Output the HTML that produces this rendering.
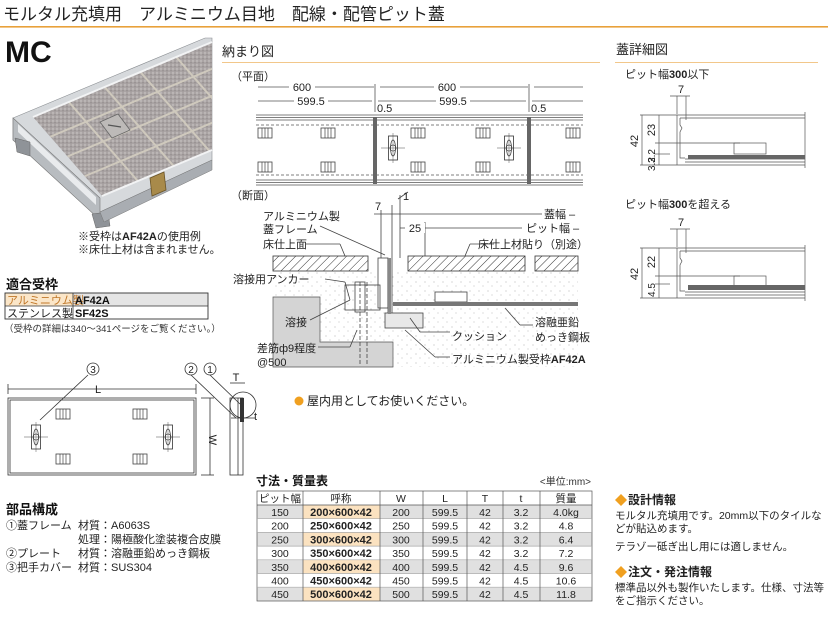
<!DOCTYPE html>
<html><head><meta charset="utf-8">
<style>
html,body{margin:0;padding:0;background:#fff;}
svg{display:block;font-family:"Liberation Sans","Noto Sans CJK JP",sans-serif;}
</style></head>
<body>
<svg width="828" height="617" viewBox="0 0 828 617" xmlns="http://www.w3.org/2000/svg">
<defs>
<pattern id="hatch" width="6" height="6" patternUnits="userSpaceOnUse" patternTransform="rotate(45)">
<rect width="6" height="6" fill="#fff"/><line x1="0" y1="0" x2="0" y2="6" stroke="#333" stroke-width="1"/></pattern>
<pattern id="dots" width="9" height="9" patternUnits="userSpaceOnUse">
<rect width="9" height="9" fill="#fff"/><circle cx="2" cy="3" r="0.5" fill="#999"/><circle cx="6" cy="7" r="0.5" fill="#aaa"/></pattern>
<pattern id="tile" width="4" height="4" patternUnits="userSpaceOnUse">
<rect width="4" height="4" fill="#aaa4a4"/><circle cx="1" cy="1" r="0.7" fill="#d2cecd"/><circle cx="3" cy="2.8" r="0.6" fill="#807a7a"/></pattern>
<clipPath id="tclip"><polygon points="33,117 212,42 212,150 102,196"/></clipPath>
<g id="hnd"><rect x="-7" y="-5" width="14" height="10" fill="#fff" stroke="#444" stroke-width="0.8"/><line x1="-3" y1="-5" x2="-3" y2="5" stroke="#444" stroke-width="0.7"/><line x1="0" y1="-5" x2="0" y2="5" stroke="#444" stroke-width="0.7"/><line x1="3" y1="-5" x2="3" y2="5" stroke="#444" stroke-width="0.7"/></g>
<g id="hole"><line x1="-12" y1="0" x2="12" y2="0" stroke="#888" stroke-width="0.7"/><line x1="0" y1="-15" x2="0" y2="15" stroke="#888" stroke-width="0.7"/><rect x="-4.5" y="-12" width="9" height="24" fill="none" stroke="#333" stroke-width="0.8"/><ellipse cx="0" cy="0" rx="2.5" ry="8" fill="none" stroke="#444" stroke-width="0.8"/><circle r="3" fill="none" stroke="#444" stroke-width="0.8"/></g>
</defs>

<!-- Title -->
<text x="3" y="20" font-size="17" fill="#222">モルタル充填用　アルミニウム目地　配線・配管ピット蓋</text>
<rect x="0" y="26" width="828" height="1.6" fill="#e8a13a"/>
<text x="5" y="62" font-size="30" font-weight="bold" fill="#111">MC</text>

<!-- Photo -->
<g>
<polygon points="13,118 205,38 212,38 212,160 100,212 100,218 13,140" fill="#d6d9dc" stroke="#8a8e92" stroke-width="0.6"/>
<polygon points="13,118 100,198 100,220 13,140" fill="#b8bcc0" stroke="#777" stroke-width="0.6"/>
<polygon points="18,124 96,197 96,205 18,132" fill="#e9ebed"/>
<polygon points="15,138 30,142 30,156 17,152" fill="#8f9398" stroke="#666" stroke-width="0.5"/>
<polygon points="92,214 108,212 110,226 96,228" fill="#8f9398" stroke="#666" stroke-width="0.5"/>
<polygon points="100,212 212,160 212,170 104,222" fill="#a9adb2" stroke="#777" stroke-width="0.5"/>
<polygon points="33,117 212,42 212,150 102,196" fill="url(#tile)"/>
<g clip-path="url(#tclip)" stroke="#cfc9bd" stroke-width="2">
<line x1="68.8" y1="102" x2="137.8" y2="181"/><line x1="104.6" y1="87" x2="173.6" y2="166"/>
<line x1="140.4" y1="72" x2="209.4" y2="151"/><line x1="176.2" y1="57" x2="245" y2="136"/>
<line x1="50.25" y1="136.75" x2="250" y2="53"/><line x1="67.5" y1="156.5" x2="267.5" y2="72.5"/><line x1="84.75" y1="176.25" x2="284.75" y2="92.25"/>
</g>
<polygon points="33,117 212,42" fill="none"/>
<line x1="33" y1="117" x2="212" y2="42" stroke="#f2f3f4" stroke-width="2"/>
<line x1="102" y1="196" x2="212" y2="150" stroke="#f2f3f4" stroke-width="2"/>
<polygon points="100,122 118,114 130,130 112,138" fill="#bdbab8" stroke="#666" stroke-width="0.8"/>
<line x1="108" y1="125" x2="121" y2="127" stroke="#555" stroke-width="1.2"/>
<polygon points="150,178 164,172 166,190 152,196" fill="#a88a4a" stroke="#6b5426" stroke-width="0.8"/>
</g>
<text x="78" y="240" font-size="11" fill="#222">※受枠は<tspan font-weight="bold">AF42A</tspan>の使用例</text>
<text x="78" y="253" font-size="11" fill="#222">※床仕上材は含まれません。</text>

<!-- 適合受枠 -->
<text x="6" y="289" font-size="13" font-weight="bold" fill="#111">適合受枠</text>
<rect x="5" y="293" width="203" height="13" fill="#e5e5e5"/>
<rect x="5" y="293" width="68" height="13" fill="#fbe6c8"/>
<rect x="5" y="293" width="203" height="26" fill="none" stroke="#333" stroke-width="0.9"/>
<line x1="5" y1="306" x2="208" y2="306" stroke="#333" stroke-width="0.8"/>
<line x1="73" y1="293" x2="73" y2="319" stroke="#333" stroke-width="0.8"/>
<text x="7" y="304" font-size="11" fill="#c0782a">アルミニウム製</text>
<text x="75" y="304" font-size="11" font-weight="bold" fill="#111">AF42A</text>
<text x="7" y="317" font-size="11" fill="#222">ステンレス製</text>
<text x="75" y="317" font-size="11" font-weight="bold" fill="#111">SF42S</text>
<text x="4" y="332" font-size="9.5" fill="#333">（受枠の詳細は340～341ページをご覧ください。）</text>

<!-- Parts drawing -->
<g stroke="#333" fill="none" stroke-width="0.8">
<line x1="8" y1="389" x2="196" y2="389"/><line x1="8" y1="384" x2="8" y2="394"/><line x1="196" y1="384" x2="196" y2="394"/>
<rect x="8" y="398" width="188" height="77" fill="#fff"/>
<rect x="10" y="400" width="184" height="73"/>
<line x1="210" y1="398" x2="210" y2="475"/><line x1="201" y1="398" x2="214" y2="398"/><line x1="201" y1="475" x2="214" y2="475"/>
<rect x="230" y="398" width="13" height="77" fill="#fff"/>
<line x1="238" y1="398" x2="238" y2="475"/>
<circle cx="243" cy="405" r="13"/>
<line x1="230" y1="383" x2="245" y2="383"/>
<line x1="88" y1="375" x2="40" y2="420"/><line x1="191" y1="375" x2="236" y2="418"/><line x1="210" y1="375" x2="240" y2="404"/>
</g>
<rect x="240" y="398" width="4" height="24" fill="#333"/>
<line x1="231" y1="418" x2="255" y2="418" stroke="#333" stroke-width="0.8"/>
<use href="#hnd" x="63" y="414"/><use href="#hnd" x="140" y="414"/><use href="#hnd" x="63" y="459"/><use href="#hnd" x="140" y="459"/>
<use href="#hole" x="36" y="437"/><use href="#hole" x="168" y="437"/>
<g font-size="11" fill="#222">
<text x="98" y="393" text-anchor="middle">L</text>
<text x="209" y="440" transform="rotate(90 209 440)" text-anchor="middle">W</text>
<text x="236" y="381" text-anchor="middle">T</text>
<text x="254" y="420">t</text>
<circle cx="93" cy="369" r="6" fill="none" stroke="#333" stroke-width="0.8"/><text x="93" y="373" text-anchor="middle" font-size="10">3</text>
<circle cx="191" cy="369" r="6" fill="none" stroke="#333" stroke-width="0.8"/><text x="191" y="373" text-anchor="middle" font-size="10">2</text>
<circle cx="210" cy="369" r="6" fill="none" stroke="#333" stroke-width="0.8"/><text x="210" y="373" text-anchor="middle" font-size="10">1</text>
</g>

<!-- 部品構成 -->
<text x="6" y="514" font-size="13" font-weight="bold" fill="#111">部品構成</text>
<g font-size="11" fill="#222">
<text x="6" y="529">①蓋フレーム</text><text x="78" y="529">材質：A6063S</text>
<text x="78" y="543">処理：陽極酸化塗装複合皮膜</text>
<text x="6" y="557">②プレート</text><text x="78" y="557">材質：溶融亜鉛めっき鋼板</text>
<text x="6" y="571">③把手カバー</text><text x="78" y="571">材質：SUS304</text>
</g>

<!-- 納まり図 -->
<text x="222" y="56" font-size="13" fill="#222">納まり図</text>
<rect x="222" y="62" width="378" height="1" fill="#f2c78a"/>
<text x="231" y="80" font-size="11" fill="#222">（平面）</text>
<g stroke="#555" stroke-width="0.8" fill="none">
<line x1="258" y1="87" x2="374" y2="87"/><line x1="380" y1="87" x2="528" y2="87"/><line x1="534" y1="87" x2="583" y2="87"/>
<line x1="258" y1="101" x2="372" y2="101"/><line x1="378" y1="101" x2="526" y2="101"/><line x1="532" y1="101" x2="583" y2="101"/>
<line x1="375" y1="84" x2="375" y2="112"/><line x1="529" y1="84" x2="529" y2="112"/>
<line x1="256" y1="115" x2="583" y2="115"/><line x1="256" y1="117.5" x2="583" y2="117.5"/><line x1="256" y1="120" x2="583" y2="120"/>
<line x1="256" y1="180" x2="583" y2="180"/><line x1="256" y1="182.5" x2="583" y2="182.5"/><line x1="256" y1="185" x2="583" y2="185"/>
<line x1="256" y1="125" x2="583" y2="125" stroke-dasharray="3,2"/><line x1="256" y1="175" x2="583" y2="175" stroke-dasharray="3,2"/>
</g>
<rect x="373" y="117" width="4" height="67" fill="#666"/><rect x="527" y="117" width="4" height="67" fill="#666"/>
<rect x="289" y="84" width="26" height="8" fill="#fff"/><rect x="434" y="84" width="26" height="8" fill="#fff"/>
<rect x="294" y="97" width="34" height="8" fill="#fff"/><rect x="436" y="97" width="34" height="8" fill="#fff"/>
<g font-size="11" fill="#222">
<text x="302" y="91" text-anchor="middle">600</text><text x="447" y="91" text-anchor="middle">600</text>
<text x="311" y="105" text-anchor="middle">599.5</text><text x="453" y="105" text-anchor="middle">599.5</text>
<text x="377" y="112">0.5</text><text x="531" y="112">0.5</text>
</g>
<use href="#hnd" x="265" y="133"/><use href="#hnd" x="328" y="133"/><use href="#hnd" x="418" y="133"/><use href="#hnd" x="483" y="133"/><use href="#hnd" x="573" y="133"/>
<use href="#hnd" x="265" y="167"/><use href="#hnd" x="328" y="167"/><use href="#hnd" x="418" y="167"/><use href="#hnd" x="483" y="167"/><use href="#hnd" x="573" y="167"/>
<use href="#hole" x="393" y="148"/><use href="#hole" x="509" y="148"/>

<!-- Section -->
<text x="231" y="199" font-size="11" fill="#222">（断面）</text>
<rect x="273" y="271" width="305" height="96" fill="url(#dots)"/>
<polygon points="273,297 320,297 320,342 393,342 393,367 273,367" fill="#d4d4d4" stroke="#555" stroke-width="0.7"/>
<rect x="273" y="256" width="95" height="15" fill="url(#hatch)" stroke="#333" stroke-width="0.8"/>
<rect x="408" y="256" width="117" height="15" fill="url(#hatch)" stroke="#333" stroke-width="0.8"/>
<rect x="535" y="256" width="43" height="15" fill="url(#hatch)" stroke="#333" stroke-width="0.8"/>
<g stroke="#444" stroke-width="0.8" fill="none">
<rect x="378" y="258" width="10" height="50" fill="#fff"/>
<line x1="388" y1="258" x2="388" y2="328"/><line x1="392" y1="258" x2="392" y2="314"/>
<rect x="355" y="282" width="10" height="30" fill="#fff"/>
<line x1="360" y1="282" x2="360" y2="365" stroke-dasharray="4,2"/><line x1="367" y1="282" x2="367" y2="365" stroke-dasharray="4,2"/>
<rect x="345" y="285" width="35" height="25"/>
<rect x="385" y="313" width="38" height="15" fill="#e8e8e8"/>
<rect x="435" y="292" width="32" height="10" fill="#fff"/>
<line x1="400" y1="195" x2="400" y2="258"/><line x1="392" y1="205" x2="392" y2="258"/><line x1="381" y1="210" x2="381" y2="258"/>
<line x1="374" y1="214" x2="400" y2="214"/><line x1="400" y1="214" x2="570" y2="214"/>
<line x1="400" y1="228" x2="430" y2="228"/><line x1="430" y1="228" x2="570" y2="228"/><line x1="425" y1="222" x2="425" y2="256"/>
<line x1="398" y1="199" x2="408" y2="192"/>
<line x1="320" y1="226" x2="385" y2="255"/>
<line x1="306" y1="244" x2="340" y2="244"/><line x1="340" y1="244" x2="345" y2="256"/>
<line x1="494" y1="244" x2="470" y2="244"/><line x1="470" y1="244" x2="465" y2="256"/>
<line x1="325" y1="279" x2="345" y2="282"/><line x1="345" y1="282" x2="350" y2="300"/>
<line x1="310" y1="320" x2="350" y2="300"/>
<line x1="318" y1="347" x2="350" y2="347"/><line x1="350" y1="347" x2="357" y2="330"/>
<line x1="450" y1="332" x2="420" y2="332"/><line x1="420" y1="332" x2="410" y2="318"/>
<line x1="450" y1="357" x2="435" y2="357"/><line x1="435" y1="357" x2="405" y2="330"/>
<line x1="533" y1="325" x2="520" y2="325"/><line x1="520" y1="325" x2="505" y2="308"/>
</g>
<rect x="393" y="302" width="185" height="4" fill="#777"/>
<rect x="388" y="258" width="3" height="56" fill="#888"/>
<g font-size="11" fill="#222">
<text x="378" y="210" text-anchor="middle">7</text><text x="403" y="200">1</text>
<rect x="405" y="223" width="20" height="10" fill="#fff"/><text x="415" y="232" text-anchor="middle">25</text>
<rect x="542" y="208" width="36" height="12" fill="#fff"/><text x="544" y="218">蓋幅 –</text>
<rect x="522" y="222" width="56" height="12" fill="#fff"/><text x="526" y="232">ピット幅 –</text>
<text x="263" y="220">アルミニウム製</text><text x="263" y="233">蓋フレーム</text>
<text x="263" y="248">床仕上面</text>
<text x="478" y="248">床仕上材貼り（別途）</text>
<text x="233" y="283">溶接用アンカー</text>
<text x="285" y="326">溶接</text>
<text x="257" y="352">差筋ф9程度</text>
<text x="257" y="366">@500</text>
<text x="535" y="326">溶融亜鉛</text><text x="535" y="341">めっき鋼板</text>
<text x="452" y="340">クッション</text>
<text x="452" y="363">アルミニウム製受枠<tspan font-weight="bold">AF42A</tspan></text>
</g>
<circle cx="299" cy="401" r="4.5" fill="#f0a020"/>
<text x="307" y="405" font-size="12" fill="#222">屋内用としてお使いください。</text>

<!-- 蓋詳細図 -->
<text x="616" y="54" font-size="13" fill="#222">蓋詳細図</text>
<rect x="615" y="62" width="203" height="1" fill="#f2c78a"/>
<text x="625" y="78" font-size="11" fill="#222">ピット幅<tspan font-weight="bold">300</tspan>以下</text>
<text x="625" y="208" font-size="11" fill="#222">ピット幅<tspan font-weight="bold">300</tspan>を超える</text>
<g stroke="#555" stroke-width="0.7" fill="none">
<g>
<line x1="670" y1="96" x2="690" y2="96"/><line x1="677" y1="96" x2="677" y2="114"/><line x1="686" y1="96" x2="686" y2="120"/>
<line x1="640" y1="115" x2="805" y2="115"/><line x1="680" y1="118" x2="805" y2="118"/>
<line x1="640" y1="165" x2="805" y2="165"/><line x1="685" y1="162" x2="805" y2="162"/><line x1="685" y1="159" x2="805" y2="159"/>
<path d="M677,115 L677,165 M680,118 L680,125 L682,128 L680,132 L680,158 L685,158"/>
<line x1="805" y1="112" x2="805" y2="168"/>
<line x1="642" y1="115" x2="642" y2="165"/><line x1="659" y1="115" x2="659" y2="165"/>
<line x1="655" y1="143" x2="740" y2="143"/><line x1="655" y1="154" x2="670" y2="154"/>
<rect x="734" y="143" width="32" height="11"/>
</g>
<g transform="translate(0,133)">
<line x1="670" y1="96" x2="690" y2="96"/><line x1="677" y1="96" x2="677" y2="114"/><line x1="686" y1="96" x2="686" y2="120"/>
<line x1="640" y1="115" x2="805" y2="115"/><line x1="680" y1="118" x2="805" y2="118"/>
<line x1="640" y1="165" x2="805" y2="165"/><line x1="685" y1="162" x2="805" y2="162"/><line x1="685" y1="159" x2="805" y2="159"/>
<path d="M677,115 L677,165 M680,118 L680,125 L682,128 L680,132 L680,158 L685,158"/>
<line x1="805" y1="112" x2="805" y2="168"/>
<line x1="642" y1="115" x2="642" y2="165"/><line x1="659" y1="115" x2="659" y2="165"/>
<line x1="655" y1="143" x2="740" y2="143"/><line x1="655" y1="151" x2="670" y2="151"/>
<rect x="734" y="143" width="32" height="11"/>
</g>
</g>
<rect x="688" y="155" width="117" height="4" fill="#666"/>
<rect x="688" y="285" width="117" height="5" fill="#666"/>
<g font-size="11" fill="#222">
<text x="681" y="93" text-anchor="middle">7</text><text x="681" y="226" text-anchor="middle">7</text>
<text x="638" y="141" transform="rotate(-90 638 141)" text-anchor="middle">42</text>
<text x="655" y="130" transform="rotate(-90 655 130)" text-anchor="middle">23</text>
<text x="655" y="156" transform="rotate(-90 655 156)" text-anchor="middle" font-size="10">3.2</text>
<text x="655" y="164" transform="rotate(-90 655 164)" text-anchor="middle" font-size="10">3.2</text>
<text x="638" y="274" transform="rotate(-90 638 274)" text-anchor="middle">42</text>
<text x="655" y="262" transform="rotate(-90 655 262)" text-anchor="middle">22</text>
<text x="655" y="290" transform="rotate(-90 655 290)" text-anchor="middle" font-size="10">4.5</text>
</g>

<!-- Table -->
<text x="256" y="485" font-size="12" font-weight="bold" fill="#111">寸法・質量表</text>
<text x="591" y="485" font-size="10" fill="#333" text-anchor="end">&lt;単位:mm&gt;</text>
<g>
<rect x="257" y="505" width="335" height="13.7" fill="#e0e0e0"/>
<rect x="257" y="532.4" width="335" height="13.7" fill="#e0e0e0"/>
<rect x="257" y="559.8" width="335" height="13.7" fill="#e0e0e0"/>
<rect x="257" y="587.2" width="335" height="13.7" fill="#e0e0e0"/>
<rect x="303" y="505" width="77" height="13.7" fill="#fbe2c0"/>
<rect x="303" y="532.4" width="77" height="13.7" fill="#fbe2c0"/>
<rect x="303" y="559.8" width="77" height="13.7" fill="#fbe2c0"/>
<rect x="303" y="587.2" width="77" height="13.7" fill="#fbe2c0"/>
</g>
<g stroke="#555" stroke-width="0.7" fill="none">
<rect x="257" y="491" width="335" height="110"/>
<line x1="257" y1="505" x2="592" y2="505"/>
<line x1="257" y1="518.7" x2="592" y2="518.7" stroke="#aaa"/><line x1="257" y1="532.4" x2="592" y2="532.4" stroke="#aaa"/>
<line x1="257" y1="546.1" x2="592" y2="546.1" stroke="#aaa"/><line x1="257" y1="559.8" x2="592" y2="559.8" stroke="#aaa"/>
<line x1="257" y1="573.5" x2="592" y2="573.5" stroke="#aaa"/><line x1="257" y1="587.2" x2="592" y2="587.2" stroke="#aaa"/>
<line x1="303" y1="491" x2="303" y2="601"/><line x1="380" y1="491" x2="380" y2="601"/><line x1="423" y1="491" x2="423" y2="601"/>
<line x1="467" y1="491" x2="467" y2="601"/><line x1="503" y1="491" x2="503" y2="601"/><line x1="540" y1="491" x2="540" y2="601"/>
</g>
<g font-size="10.5" fill="#222" text-anchor="middle">
<text x="280" y="502">ピット幅</text><text x="341" y="502">呼称</text><text x="401" y="502">W</text><text x="445" y="502">L</text><text x="485" y="502">T</text><text x="521" y="502">t</text><text x="566" y="502">質量</text>
<text x="280" y="516">150</text><text x="401" y="516">200</text><text x="445" y="516">599.5</text><text x="485" y="516">42</text><text x="521" y="516">3.2</text><text x="566" y="516">4.0kg</text>
<text x="280" y="529.7">200</text><text x="401" y="529.7">250</text><text x="445" y="529.7">599.5</text><text x="485" y="529.7">42</text><text x="521" y="529.7">3.2</text><text x="566" y="529.7">4.8</text>
<text x="280" y="543.4">250</text><text x="401" y="543.4">300</text><text x="445" y="543.4">599.5</text><text x="485" y="543.4">42</text><text x="521" y="543.4">3.2</text><text x="566" y="543.4">6.4</text>
<text x="280" y="557.1">300</text><text x="401" y="557.1">350</text><text x="445" y="557.1">599.5</text><text x="485" y="557.1">42</text><text x="521" y="557.1">3.2</text><text x="566" y="557.1">7.2</text>
<text x="280" y="570.8">350</text><text x="401" y="570.8">400</text><text x="445" y="570.8">599.5</text><text x="485" y="570.8">42</text><text x="521" y="570.8">4.5</text><text x="566" y="570.8">9.6</text>
<text x="280" y="584.5">400</text><text x="401" y="584.5">450</text><text x="445" y="584.5">599.5</text><text x="485" y="584.5">42</text><text x="521" y="584.5">4.5</text><text x="566" y="584.5">10.6</text>
<text x="280" y="598.2">450</text><text x="401" y="598.2">500</text><text x="445" y="598.2">599.5</text><text x="485" y="598.2">42</text><text x="521" y="598.2">4.5</text><text x="566" y="598.2">11.8</text>
<g font-weight="bold" font-size="11">
<text x="341" y="516">200×600×42</text><text x="341" y="529.7">250×600×42</text><text x="341" y="543.4">300×600×42</text>
<text x="341" y="557.1">350×600×42</text><text x="341" y="570.8">400×600×42</text><text x="341" y="584.5">450×600×42</text><text x="341" y="598.2">500×600×42</text>
</g>
</g>

<!-- Info -->
<g fill="#222">
<polygon points="621,494 627,500 621,506 615,500" fill="#f0a020"/>
<text x="628" y="504" font-size="12" font-weight="bold">設計情報</text>
<text x="615" y="519" font-size="10.5">モルタル充填用です。20mm以下のタイルな</text>
<text x="615" y="532" font-size="10.5">どが貼込めます。</text>
<text x="615" y="550" font-size="10.5">テラゾー砥ぎ出し用には適しません。</text>
<polygon points="621,566 627,572 621,578 615,572" fill="#f0a020"/>
<text x="628" y="576" font-size="12" font-weight="bold">注文・発注情報</text>
<text x="615" y="591" font-size="10.5">標準品以外も製作いたします。仕様、寸法等</text>
<text x="615" y="604" font-size="10.5">をご指示ください。</text>
</g>
</svg>
</body></html>
